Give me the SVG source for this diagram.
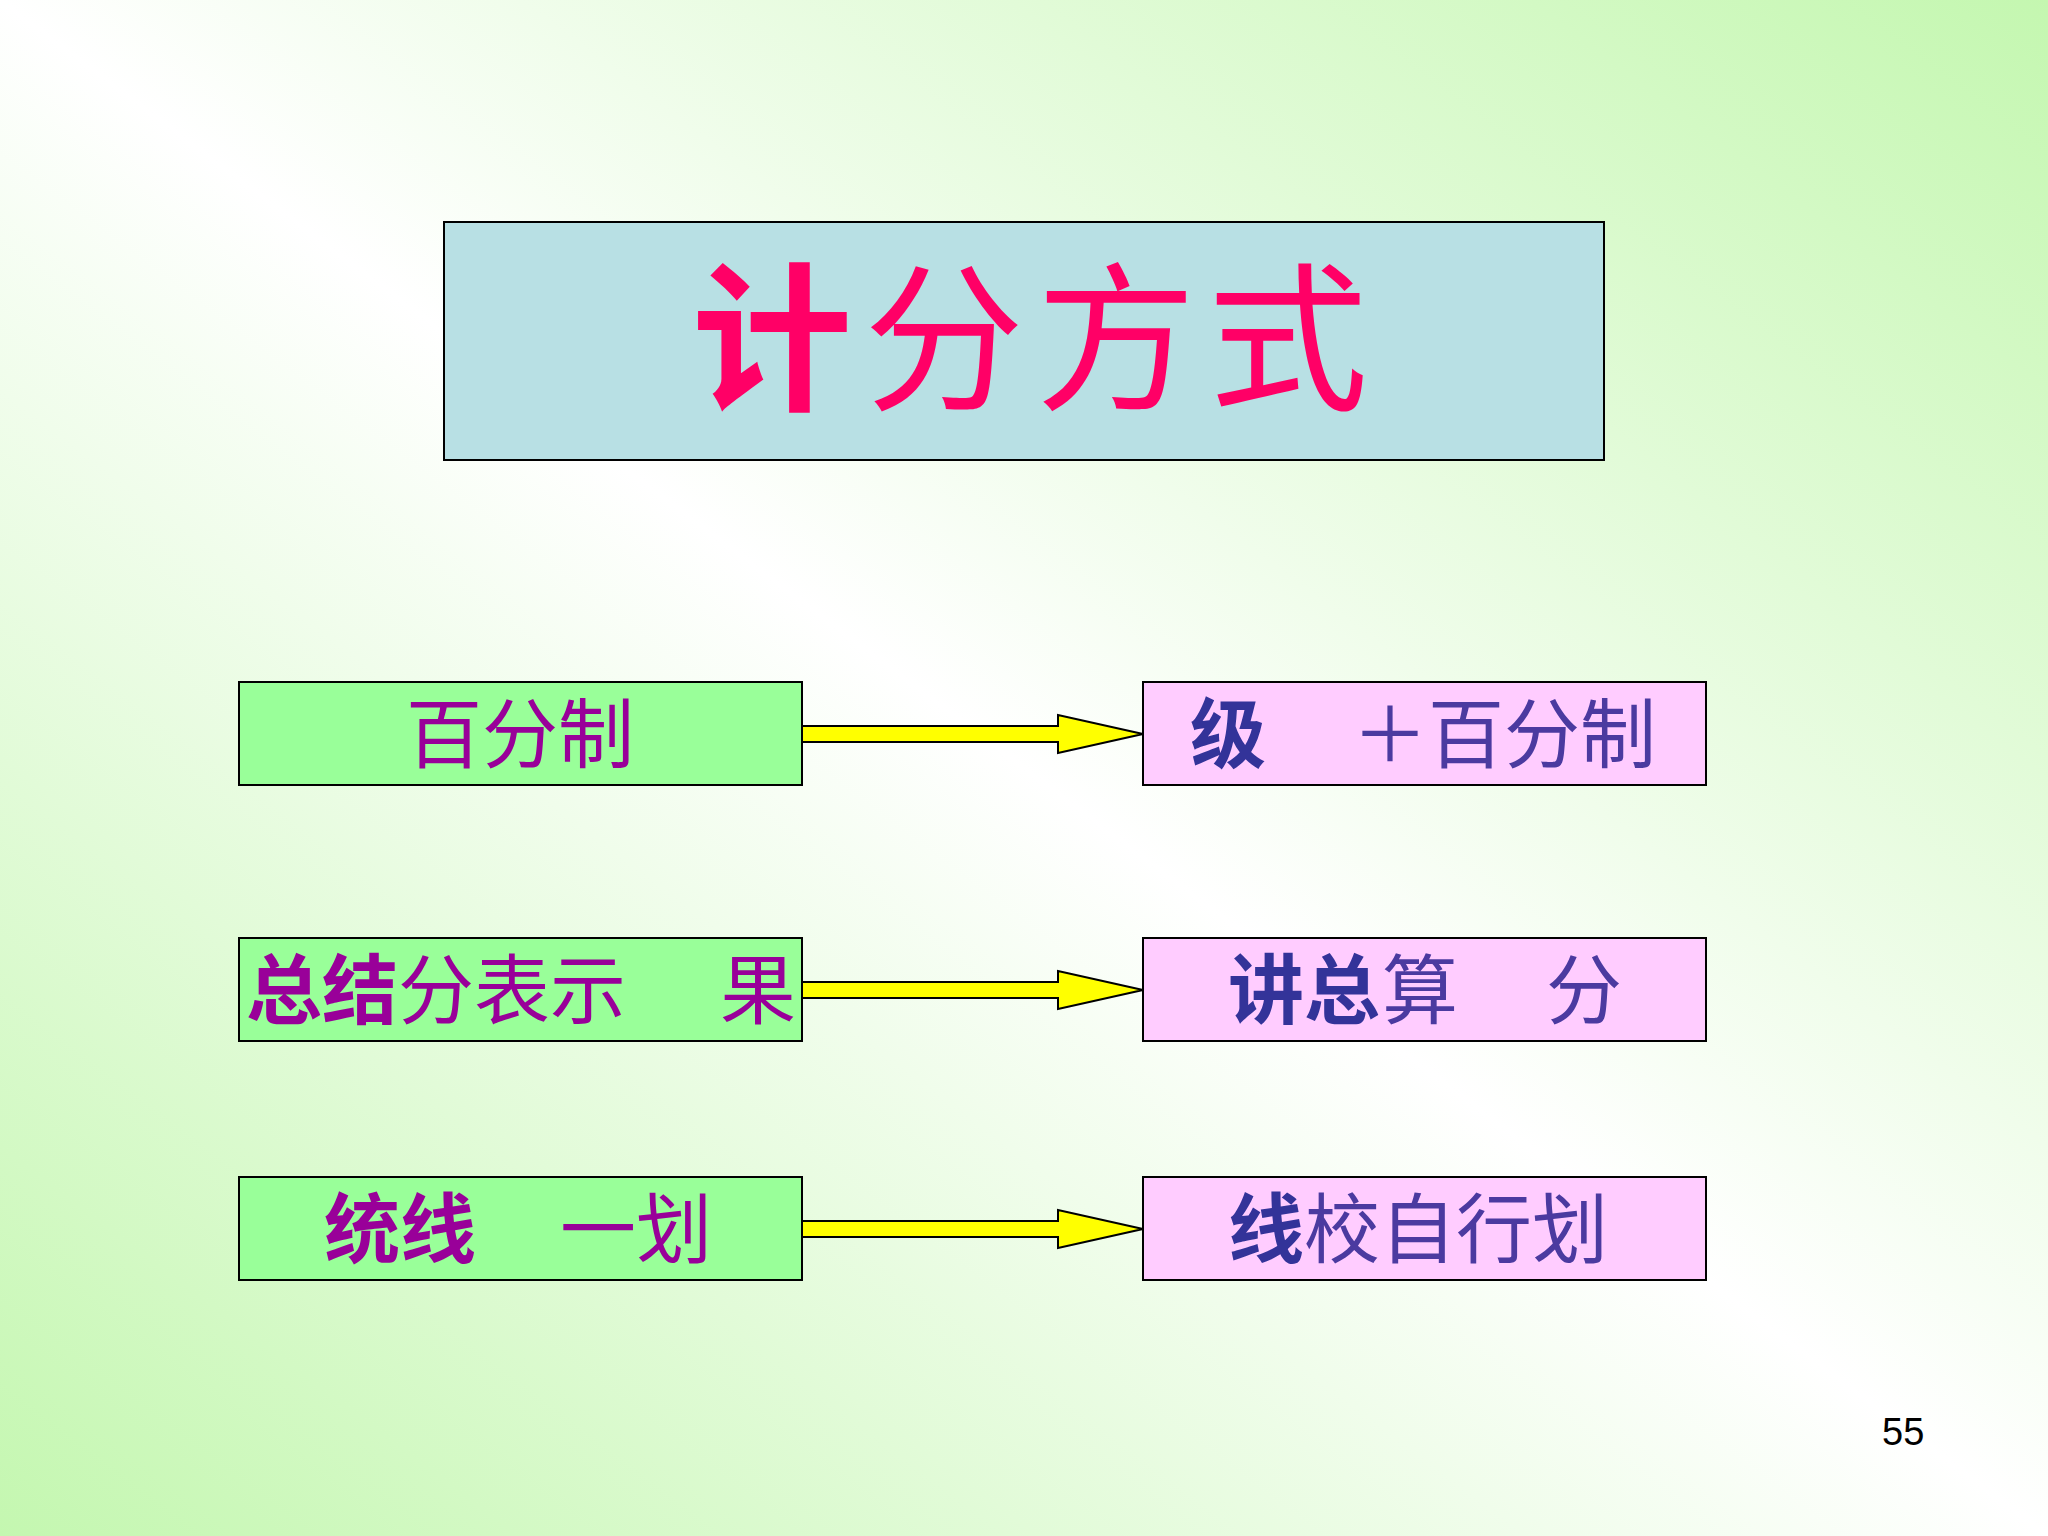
<svg xmlns="http://www.w3.org/2000/svg" width="2048" height="1536" viewBox="0 0 2048 1536">
<defs>
<linearGradient id="bg" x1="1" y1="0" x2="0" y2="1">
<stop offset="0" stop-color="#c4f7b0"/>
<stop offset="0.5" stop-color="#ffffff"/>
<stop offset="1" stop-color="#c4f7b0"/>
</linearGradient>
<path id="arr" d="M802,726 H1058 V715 L1143,734 L1058,753 V742 H802 Z"/>
</defs>
<style>
.l{fill:#99ff99;stroke:#000;stroke-width:2}
.r{fill:#ffccff;stroke:#000;stroke-width:2}
.a{fill:#ffff00;stroke:#000;stroke-width:2}
text{font-family:"Noto Sans CJK SC","Liberation Sans",sans-serif;font-size:76px}
.p{fill:#990099}
.b{fill:#333399}
.bd{font-weight:bold}
.rb{fill:#4b3aa0}
</style>
<rect width="2048" height="1536" fill="url(#bg)"/>
<g id="title">
<rect x="444" y="222" width="1160" height="238" fill="#b8e0e4" stroke="#000" stroke-width="2"/>
<text x="692" y="398" style="font-size:160px;letter-spacing:12px" fill="#ff0066"><tspan font-weight="bold">计</tspan>分方式</text>
</g>
<g id="connectors">
<use href="#arr" class="a"/>
<use href="#arr" class="a" y="256"/>
<use href="#arr" class="a" y="495"/>
</g>
<g id="l1"><rect class="l" x="239" y="682" width="563" height="103"/><text class="p" x="520" y="762" text-anchor="middle">百分制</text></g>
<g id="r1"><rect class="r" x="1143" y="682" width="563" height="103"/><text class="b bd" x="1190" y="762">级</text><text class="rb" x="1352" y="762">＋百分制</text></g>
<g id="l2"><rect class="l" x="239" y="938" width="563" height="103"/><text class="p" x="246" y="1018"><tspan font-weight="bold">总结</tspan>分表示</text><text class="p" x="720" y="1018">果</text></g>
<g id="r2"><rect class="r" x="1143" y="938" width="563" height="103"/><text class="b bd" x="1228" y="1018">讲总</text><text class="rb" x="1382" y="1018">算</text><text class="rb" x="1546" y="1018">分</text></g>
<g id="l3"><rect class="l" x="239" y="1177" width="563" height="103"/><text class="p bd" x="324" y="1257">统线</text><text class="p" x="560" y="1257">一划</text></g>
<g id="r3"><rect class="r" x="1143" y="1177" width="563" height="103"/><text class="rb" x="1228" y="1257"><tspan class="b bd">线</tspan>校自行划</text></g>
<text x="1882" y="1445" style="font-family:'Liberation Sans',sans-serif;font-size:38px" fill="#000">55</text>
</svg>
